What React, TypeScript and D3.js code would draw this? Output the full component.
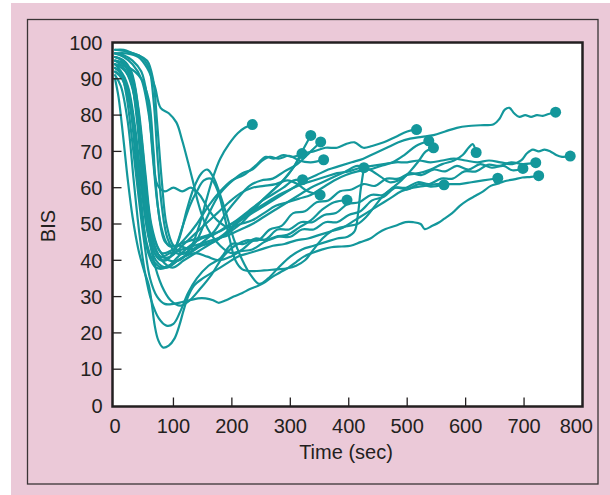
import React from "react";
import * as d3 from "d3";

const xTicks = [0, 100, 200, 300, 400, 500, 600, 700, 800];
const yTicks = [0, 10, 20, 30, 40, 50, 60, 70, 80, 90, 100];
const xTitle = "Time (sec)";
const yTitle = "BIS";

type P = [number, number];

const patient01: P[] = [[0,96],[15,95],[28,92],[40,82],[52,64],[62,50],[75,43],[92,40],[110,40],[128,43],[143,49],[157,57],[168,63],[180,68],[195,72],[210,75],[222,76.5],[235,77.4]];
const patient02: P[] = [[0,93],[10,92],[22,88],[35,76],[47,58],[58,46],[70,40],[88,38],[108,40],[128,42],[148,44],[168,45],[188,47],[208,50],[228,53],[248,56],[268,59],[288,62],[305,65.5],[320,70],[335,74.4]];
const patient03: P[] = [[0,97],[15,96],[30,94],[45,90],[58,80],[68,64],[78,50],[92,44],[110,44],[130,43],[150,45],[170,48],[190,53],[210,57],[230,60.5],[250,62],[270,62.5],[290,64.5],[312,66.5],[335,70],[352,72.6]];
const patient04: P[] = [[0,95],[18,94],[32,89],[45,74],[56,56],[66,45],[80,40],[98,38],[118,40],[138,42],[158,44],[178,46],[198,48],[218,50.5],[238,54],[255,57],[272,59.5],[290,62.5],[305,65.5],[320,69.4]];
const patient05: P[] = [[0,98],[20,97.5],[40,96.5],[55,95],[65,90],[72,78],[80,62],[88,50],[100,44],[118,42],[138,45],[158,52],[178,58],[198,61.5],[218,64],[235,65],[252,67.5],[265,68.5],[280,68],[298,68.8],[315,67.5],[335,67],[357,67.7]];
const patient06: P[] = [[0,92],[12,90],[25,83],[36,67],[46,52],[57,42],[70,38],[88,38],[108,41],[128,44],[148,46],[168,47],[188,49],[208,51],[228,53.5],[248,56],[268,58],[288,60],[305,62],[321,62.2]];
const patient07: P[] = [[0,94],[18,92],[32,86],[44,70],[54,54],[64,45],[78,41],[95,41],[115,44],[135,47],[155,50],[175,53],[195,56],[215,58.5],[235,60],[255,60.5],[275,61],[295,62],[312,61],[330,59],[351,58]];
const patient08: P[] = [[0,97],[20,97],[40,96],[55,93],[68,88],[78,82],[92,80.5],[105,78],[115,73],[125,67],[133,62],[142,56],[152,51],[165,47],[180,44],[198,42],[215,42.5],[235,43],[255,45],[275,46.5],[295,47],[315,49],[335,51],[355,54],[375,56],[397,56.6]];
const patient09: P[] = [[0,93],[12,91],[25,85],[38,70],[50,54],[62,44],[78,40],[95,41],[110,46],[123,54],[135,60],[148,64],[158,65],[168,63],[178,59],[190,53],[203,46],[218,40],[232,36],[247,33.5],[262,35],[280,38],[300,41],[320,43],[340,44],[360,45],[380,46],[398,46.5],[410,48],[416,53],[420,59],[426,65.5]];
const patient10: P[] = [[0,95],[14,94],[28,90],[42,76],[54,58],[65,47],[80,42],[100,43],[120,46],[140,50],[160,55],[180,59],[200,62],[220,63.5],[240,66],[258,68.5],[272,68],[288,69],[305,68.5],[322,69.5],[340,70],[360,71],[380,71],[395,72],[410,72.5],[425,71],[440,71.5],[460,72.5],[480,74],[500,75.5],[516,76]];
const patient11: P[] = [[0,94],[25,93],[45,90],[58,84],[66,70],[72,61],[85,59],[100,60],[115,59],[130,60],[145,58],[160,54],[175,51],[195,49],[215,50],[235,51],[255,53],[275,55],[295,56],[315,57],[335,58],[355,60],[375,62],[395,63.5],[415,64.5],[435,65],[455,66],[475,67],[495,69],[515,71.5],[537,72.9]];
const patient12: P[] = [[0,96],[14,95],[26,91],[38,78],[48,60],[58,47],[72,41],[88,40],[102,43],[115,49],[128,55],[140,59],[152,62],[164,62.5],[176,59],[186,53],[196,46],[206,40],[218,37.5],[235,37],[255,37.2],[275,37.5],[295,37.8],[310,38.5],[325,40],[340,43],[355,46],[370,48],[385,49],[400,49.5],[415,50],[430,52],[445,55],[460,58],[475,60],[490,62],[505,64.5],[518,67],[532,70],[545,71]];
const patient13: P[] = [[0,91],[10,88],[22,78],[32,62],[42,47],[52,36],[62,29],[75,24],[88,22],[100,22.5],[112,26],[125,31],[140,35],[160,38.5],[180,40.5],[200,44.5],[220,44.5],[240,46],[260,45.5],[280,46.5],[300,46.5],[320,48.5],[340,48.5],[360,50.5],[380,50.5],[400,52.5],[420,53.5],[440,56.5],[460,57.5],[480,60],[500,59.5],[520,61],[540,60.3],[563,60.8]];
const patient14: P[] = [[0,95],[15,93],[30,88],[43,72],[54,55],[64,45],[78,41],[95,42],[115,43],[135,44],[155,45],[175,46],[195,47],[215,48.5],[235,50],[255,52],[275,54],[295,56],[315,58],[335,60],[355,61.5],[375,63],[395,64.5],[415,66],[435,65],[455,63],[470,61.5],[485,62],[500,63.5],[520,64],[540,65],[560,66.5],[580,67.5],[595,69],[605,71],[612,72],[618,69.7]];
const patient15: P[] = [[0,90],[6,85],[14,74],[22,62],[30,52],[40,43],[50,37],[58,33],[63,28],[68,22],[74,18],[82,16],[92,16.5],[102,18.5],[110,22],[117,26],[125,30],[135,33],[150,35],[170,37],[190,39],[210,41],[230,42],[250,43],[270,44],[290,44.5],[310,45.5],[330,46],[350,47],[370,48],[390,49],[410,51],[430,53],[450,55],[470,57],[490,59],[510,60],[530,60.5],[550,61],[570,61],[590,61],[610,61.5],[630,62],[655,62.6]];
const patient16: P[] = [[0,96],[12,95],[24,92],[36,82],[46,65],[55,50],[66,40],[80,33],[95,29],[112,27.5],[128,29],[145,32],[165,36],[185,41],[205,44],[225,45.5],[245,45.5],[265,48.5],[285,49.5],[305,53],[325,53.5],[345,56],[365,56.5],[385,59],[405,59.5],[425,61],[445,60.5],[465,62.5],[485,62.5],[505,64],[525,63.5],[545,65],[565,64.5],[585,66],[605,65],[625,66.5],[645,65.5],[665,66],[680,64.8],[698,65.3]];
const patient17: P[] = [[0,92],[14,90],[26,84],[36,70],[45,56],[54,45],[65,40],[80,38],[98,39],[118,41],[138,42],[158,41],[178,40],[198,41],[218,43],[238,45.5],[258,45.8],[278,48.5],[298,48.5],[318,50.5],[338,50.5],[358,52.5],[378,53],[398,55.5],[418,56],[438,58],[458,58],[478,60],[498,60],[518,61.5],[538,61],[558,62.5],[578,62.5],[598,64.5],[618,64.5],[638,66.3],[658,66],[678,67],[698,66.5],[720,66.9]];
const patient18: P[] = [[0,94],[10,92],[20,85],[30,72],[40,58],[50,45],[60,35],[72,30],[85,28],[100,28],[115,28.5],[128,29],[142,29.5],[155,29.5],[168,29],[177,28.3],[190,29],[203,30],[218,31],[230,32],[245,33],[257,34],[270,35.5],[283,36.7],[297,38],[310,39.5],[323,41],[337,42],[355,43],[370,43.6],[388,43.8],[403,44],[420,45],[437,46],[450,47.5],[463,48.6],[480,49.5],[497,50.5],[510,50.5],[523,50],[530,48.6],[543,49.5],[555,50.5],[563,51.4],[577,53],[590,55],[603,56.5],[617,57.8],[630,59],[643,60.5],[657,61.2],[670,61.9],[683,62.3],[697,62.8],[712,63],[725,63.3]];
const patient19: P[] = [[0,98],[15,98],[30,97],[45,96],[58,93],[66,84],[73,68],[80,55],[90,46],[105,42],[125,42],[145,44],[165,45],[185,47],[205,50],[225,52],[245,54],[265,56],[285,58],[305,60],[325,62],[345,63.5],[365,65],[385,66],[405,67],[425,68],[445,69.5],[465,71],[485,72.5],[505,73.5],[525,74],[545,74.5],[565,75.5],[585,76.5],[605,77],[625,77.2],[648,77.5],[658,79],[667,81.5],[675,82],[683,80.5],[692,79.5],[702,80],[712,79.5],[722,80],[732,79.8],[742,80.3],[754,80.8]];
const patient20: P[] = [[0,97],[15,96.5],[30,95],[45,92],[56,84],[65,68],[74,54],[86,45],[100,44],[120,45],[140,46],[160,47],[180,48],[200,50],[220,52],[240,54],[260,56],[280,58],[300,59.5],[320,61],[340,62],[360,63],[380,64],[400,64.5],[420,65.5],[440,66],[460,66.5],[480,67],[500,67],[520,67.5],[540,67],[560,67.5],[580,68],[600,67.5],[620,67],[640,67.5],[660,67],[680,66.5],[695,67.5],[705,69.5],[715,70.5],[725,70],[735,70.5],[745,70],[755,69],[765,68.5],[779,68.7]];

const patients: P[][] = [
  patient01, patient02, patient03, patient04, patient05, patient06, patient07,
  patient08, patient09, patient10, patient11, patient12, patient13, patient14,
  patient15, patient16, patient17, patient18, patient19, patient20,
];

const TEAL = "#13979b";
const INK = "#231f20";

export default function App() {
  const W = 610, H = 495;
  const plot = { left: 112.5, right: 582.5, top: 42.5, bottom: 406.5 };
  const x = d3.scaleLinear().domain([0, 800]).range([115, 582.5]);
  const y = d3.scaleLinear().domain([0, 100]).range([405.5, 42.5]);
  const line = d3
    .line<P>()
    .x((d) => x(d[0]))
    .y((d) => y(d[1]))
    .curve(d3.curveCatmullRom.alpha(0.5));

  return (
    <svg
      width={W}
      height={H}
      style={{ position: "absolute", left: 0, top: 0 }}
      fontFamily="'Liberation Sans', Arial, Helvetica, sans-serif"
    >
      <rect x={0} y={0} width={W} height={H} fill="#ffffff" />
      <rect x={11} y={3} width={W - 11} height={H - 3} fill="#ebc9d8" />
      <rect x={27.5} y={19.5} width={570.5} height={464.5} fill="none" stroke="#3a3536" strokeWidth={1.3} />
      <rect
        x={plot.left}
        y={plot.top}
        width={plot.right - plot.left}
        height={plot.bottom - plot.top}
        fill="#ffffff"
      />
      <defs>
        <clipPath id="plotclip">
          <rect x={plot.left} y={plot.top - 2} width={plot.right - plot.left} height={plot.bottom - plot.top + 2} />
        </clipPath>
      </defs>
      <g clipPath="url(#plotclip)">
        {patients.map((p, i) => (
          <path key={i} d={line(p) ?? ""} fill="none" stroke={TEAL} strokeWidth={2.2} strokeLinejoin="round" strokeLinecap="round" />
        ))}
      </g>
      {patients.map((p, i) => {
        const last = p[p.length - 1];
        return <circle key={i} cx={x(last[0])} cy={y(last[1])} r={5.5} fill={TEAL} />;
      })}
      {yTicks.slice(1, -1).map((t) => (
        <line key={t} x1={plot.left} x2={plot.left + 9} y1={y(t)} y2={y(t)} stroke={INK} strokeWidth={1.3} />
      ))}
      {xTicks.slice(1, -1).map((t) => (
        <line key={t} x1={x(t)} x2={x(t)} y1={plot.bottom} y2={plot.bottom - 9} stroke={INK} strokeWidth={1.3} />
      ))}
      <rect
        x={plot.left}
        y={plot.top}
        width={plot.right - plot.left}
        height={plot.bottom - plot.top}
        fill="none"
        stroke={INK}
        strokeWidth={2.5}
      />
      {yTicks.map((t) => (
        <text key={t} x={102.5} y={y(t)} dy="0.36em" textAnchor="end" fontSize={20} fill={INK}>
          {t}
        </text>
      ))}
      {xTicks.map((t, i) => (
        <text
          key={t}
          x={i === xTicks.length - 1 ? 593 : x(t)}
          y={433}
          textAnchor={i === xTicks.length - 1 ? "end" : "middle"}
          fontSize={20}
          fill={INK}
        >
          {t}
        </text>
      ))}
      <text x={346} y={459} textAnchor="middle" fontSize={20} fill={INK}>
        {xTitle}
      </text>
      <text transform="translate(55,226) rotate(-90)" textAnchor="middle" fontSize={20} fill={INK}>
        {yTitle}
      </text>
    </svg>
  );
}
